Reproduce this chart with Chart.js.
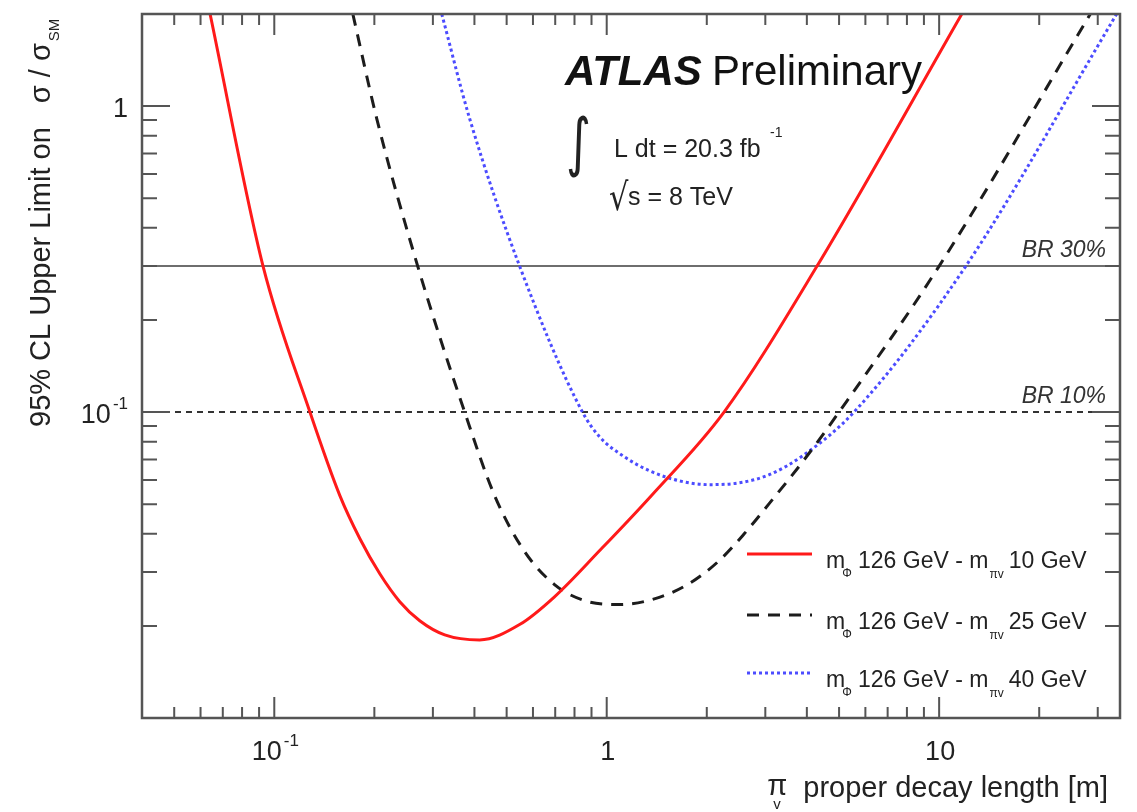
<!DOCTYPE html>
<html>
<head>
<meta charset="utf-8">
<script src="https://cdn.jsdelivr.net/npm/chart.js@4.4.1/dist/chart.umd.min.js"></script>
<style>
  html, body { margin: 0; padding: 0; background: #fff; }
  #wrap { width: 1137px; height: 812px; }
</style>
</head>
<body>
<div id="wrap"><canvas id="limitChart" width="1137" height="812"></canvas></div>
<script>
// pi_v proper decay length [m] vs 95% CL limit on sigma/sigma_SM
const decayLength10 = [0.0641, 0.0925, 0.128, 0.1575, 0.1808, 0.2077, 0.2385, 0.2739, 0.3256, 0.4147, 0.5469, 0.6965, 0.951, 1.362, 2.254, 4.293, 11.7];
const limit10       = [2.0, 0.3, 0.1, 0.0533, 0.0386, 0.0296, 0.0240, 0.0208, 0.0187, 0.0180, 0.0202, 0.0249, 0.0352, 0.0533, 0.1, 0.3, 2.0];

const decayLength25 = [0.1723, 0.2034, 0.27, 0.3739, 0.4601, 0.5661, 0.6965, 0.857, 1.092, 1.391, 1.771, 2.180, 2.592, 3.081, 3.925, 5.0, 10.0, 28.5];
const limit25       = [2.0, 0.909, 0.3, 0.1, 0.0533, 0.0350, 0.0273, 0.0242, 0.0235, 0.0245, 0.0275, 0.0327, 0.0400, 0.0502, 0.0698, 0.1, 0.3, 2.0];

const decayLength40 = [0.319, 0.3871, 0.5469, 0.8452, 0.951, 1.130, 1.344, 1.653, 2.034, 2.503, 3.081, 3.925, 5.545, 12.03, 34.2];
const limit40       = [2.0, 0.909, 0.3, 0.1, 0.0831, 0.0714, 0.0643, 0.0596, 0.0579, 0.0587, 0.0624, 0.0725, 0.1, 0.3, 2.0];

const piMasses = ['10', '25', '40'];
const brLevels = [0.3, 0.1];
const brLabels = ['BR 30%', 'BR 10%'];

const xRange = [0.04, 35];
const yRange = [0.01, 2];
const xLabelTicks = [0.1, 1, 10];
const xLabelTexts = ['10^-1', '1', '10'];
const yLabelTicks = [1, 0.1];
const yLabelTexts = ['1', '10^-1'];

const FONT = '"Liberation Sans", Arial, Helvetica, sans-serif';
const curveStyles = [
    { color: '#ff1a1a', dash: [] },
    { color: '#1c1c1c', dash: [12, 9] },
    { color: '#4c4cff', dash: [3, 3] }
];

function pts(xs, ys) {
    return xs.map((v, i) => ({ x: v, y: ys[i] }));
}

function logTicks(min, max) {
    const out = [];
    for (let e = Math.floor(Math.log10(min)); e <= Math.ceil(Math.log10(max)); e++) {
        for (let m = 1; m <= 9; m++) {
            const v = m * Math.pow(10, e);
            if (v >= min * 0.999 && v <= max * 1.001) out.push({ v: v, major: m === 1 });
        }
    }
    return out;
}

// draws "10^-1" style labels; align: 'center' or 'right'
function drawPowLabel(ctx, text, x, y, align) {
    const parts = text.split('^');
    ctx.font = '27px ' + FONT;
    const wb = ctx.measureText(parts[0]).width;
    let we = 0;
    if (parts[1]) {
        ctx.font = '17px ' + FONT;
        we = ctx.measureText(parts[1]).width + 2;
    }
    const total = wb + we;
    const x0 = align === 'right' ? x - total : x - total / 2;
    ctx.textAlign = 'left';
    ctx.font = '27px ' + FONT;
    ctx.fillText(parts[0], x0, y);
    if (parts[1]) {
        ctx.font = '17px ' + FONT;
        ctx.fillText(parts[1], x0 + wb + 2, y - 14);
    }
}

const frameAndText = {
    id: 'frameAndText',
    afterDatasetsDraw(chart) {
        const { ctx, chartArea: a, scales: { x, y } } = chart;
        ctx.save();

        // BR labels
        ctx.fillStyle = '#333';
        ctx.font = 'italic 23px ' + FONT;
        ctx.textAlign = 'right';
        brLevels.forEach((lvl, i) => {
            ctx.fillText(brLabels[i], a.right - 14, y.getPixelForValue(lvl) - 9);
        });

        // frame
        ctx.strokeStyle = '#555';
        ctx.lineWidth = 2.5;
        ctx.strokeRect(a.left, a.top, a.right - a.left, a.bottom - a.top);

        // ticks, all pointing inwards
        ctx.lineWidth = 2;
        ctx.beginPath();
        logTicks(xRange[0], xRange[1]).forEach(t => {
            const px = x.getPixelForValue(t.v);
            const len = t.major ? 21 : 11;
            ctx.moveTo(px, a.bottom); ctx.lineTo(px, a.bottom - len);
            ctx.moveTo(px, a.top); ctx.lineTo(px, a.top + len);
        });
        logTicks(yRange[0], yRange[1]).forEach(t => {
            const py = y.getPixelForValue(t.v);
            const len = t.major ? 28 : 15;
            ctx.moveTo(a.left, py); ctx.lineTo(a.left + len, py);
            ctx.moveTo(a.right, py); ctx.lineTo(a.right - len, py);
        });
        ctx.stroke();

        // tick labels
        ctx.fillStyle = '#222';
        xLabelTicks.forEach((v, i) => {
            drawPowLabel(ctx, xLabelTexts[i], x.getPixelForValue(v) + 1, a.bottom + 42, 'center');
        });
        yLabelTicks.forEach((v, i) => {
            drawPowLabel(ctx, yLabelTexts[i], a.left - 14, y.getPixelForValue(v) + 11, 'right');
        });

        // y axis title
        ctx.save();
        ctx.translate(50, 427);
        ctx.rotate(-Math.PI / 2);
        ctx.textAlign = 'left';
        ctx.font = '29px ' + FONT;
        const main = '95% CL Upper Limit on';
        ctx.fillText(main, 0, 0);
        let off = ctx.measureText(main).width + 24;
        ctx.fillText('\u03c3 / \u03c3', off, 0);
        off += ctx.measureText('\u03c3 / \u03c3').width + 2;
        ctx.font = '15px ' + FONT;
        ctx.fillText('SM', off, 9);
        ctx.restore();

        // x axis title
        ctx.font = '29px ' + FONT;
        ctx.textAlign = 'left';
        const xt = 'proper decay length [m]';
        const xs = a.right - 12 - ctx.measureText(xt).width;
        ctx.fillText(xt, xs, 797);
        ctx.fillText('\u03c0', xs - 36, 795);
        ctx.font = '15px ' + FONT;
        ctx.fillText('v', xs - 30, 809);

        // ATLAS Preliminary
        ctx.fillStyle = '#111';
        ctx.font = 'italic bold 42px ' + FONT;
        ctx.fillText('ATLAS', 565, 85);
        ctx.font = '42px ' + FONT;
        ctx.fillText('Preliminary', 712, 85);

        // luminosity and energy
        ctx.fillStyle = '#222';
        ctx.save();
        ctx.translate(566, 164);
        ctx.scale(0.75, 1);
        ctx.font = '64px "DejaVu Sans", sans-serif';
        ctx.fillText('\u222b', 0, 0);
        ctx.restore();
        ctx.font = '25px ' + FONT;
        ctx.fillText('L dt = 20.3 fb', 614, 157);
        ctx.font = '14px ' + FONT;
        ctx.fillText('-1', 770, 137);
        ctx.save();
        ctx.translate(609, 210);
        ctx.scale(0.8, 1);
        ctx.font = '38px "DejaVu Sans", sans-serif';
        ctx.fillText('\u221a', 0, 0);
        ctx.restore();
        ctx.font = '25px ' + FONT;
        ctx.fillText('s = 8 TeV', 628, 205);

        // legend
        const legendY = [554, 615, 673];
        curveStyles.forEach((s, i) => {
            const ly = legendY[i];
            ctx.strokeStyle = s.color;
            ctx.lineWidth = 3;
            ctx.setLineDash(s.dash);
            ctx.beginPath();
            ctx.moveTo(747, ly); ctx.lineTo(812, ly);
            ctx.stroke();
            ctx.setLineDash([]);

            ctx.fillStyle = '#222';
            const by = ly + 14;
            let cx = 826;
            ctx.font = '23px ' + FONT;
            ctx.fillText('m', cx, by);
            cx += ctx.measureText('m').width;
            ctx.font = '12px ' + FONT;
            ctx.fillText('\u03a6', cx - 3, by + 9);
            cx = 858;
            ctx.font = '23px ' + FONT;
            ctx.fillText('126 GeV - m', cx, by);
            cx += ctx.measureText('126 GeV - m').width + 1;
            ctx.font = '12px ' + FONT;
            ctx.fillText('\u03c0v', cx, by + 10);
            cx += ctx.measureText('\u03c0v').width + 5;
            ctx.font = '23px ' + FONT;
            ctx.fillText(piMasses[i] + ' GeV', cx, by);
        });

        ctx.restore();
    }
};

const curves = [
    pts(decayLength10, limit10),
    pts(decayLength25, limit25),
    pts(decayLength40, limit40)
];

const datasets = curves.map((d, i) => ({
    data: d,
    showLine: true,
    borderColor: curveStyles[i].color,
    borderWidth: 3,
    borderDash: curveStyles[i].dash,
    cubicInterpolationMode: 'monotone',
    pointRadius: 0,
    fill: false
}));

brLevels.forEach((lvl, i) => {
    datasets.push({
        data: [{ x: xRange[0], y: lvl }, { x: xRange[1], y: lvl }],
        showLine: true,
        borderColor: i === 0 ? '#6e6e6e' : '#333',
        borderWidth: 2,
        borderDash: i === 0 ? [] : [6, 5],
        pointRadius: 0,
        fill: false
    });
});

new Chart(document.getElementById('limitChart').getContext('2d'), {
    type: 'scatter',
    data: { datasets: datasets },
    options: {
        responsive: false,
        animation: false,
        events: [],
        layout: { padding: { left: 142, top: 14, right: 17, bottom: 94 } },
        plugins: { legend: { display: false }, tooltip: { enabled: false } },
        scales: {
            x: { type: 'logarithmic', min: xRange[0], max: xRange[1], display: false },
            y: { type: 'logarithmic', min: yRange[0], max: yRange[1], display: false }
        }
    },
    plugins: [frameAndText]
});
</script>
</body>
</html>
